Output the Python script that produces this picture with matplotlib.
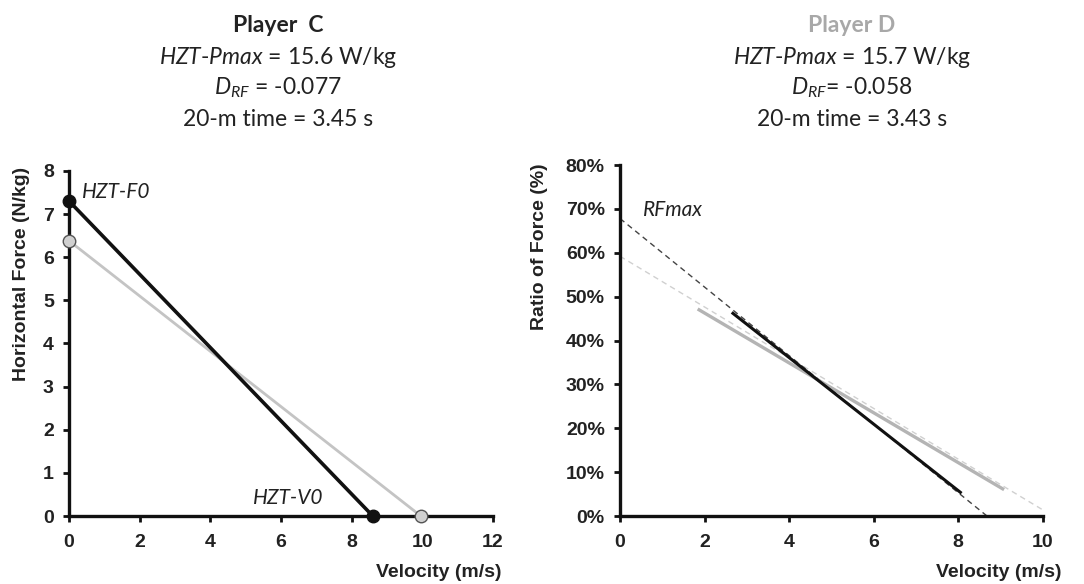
import matplotlib
matplotlib.use('Agg')
import matplotlib.pyplot as plt
from matplotlib.ticker import FuncFormatter

# left panel: horizontal force-velocity profiles (F0 at v=0, V0 at F=0)
c_f0 = 7.3
c_v0 = 8.6
d_f0 = 6.38
d_v0 = 9.96

# right panel: ratio of force vs velocity
c_rf_fit = [67.8, 0.0]        # intercept, zero crossing at c_rf_zero
c_rf_zero = 8.68
c_rf_seg_x = [2.67, 8.05]
c_rf_seg_y = [46.2, 5.4]
d_rf_fit = [59.2, 1.4]
d_rf_fit_x = [0.0, 10.0]
d_rf_seg_x = [1.87, 9.05]
d_rf_seg_y = [47.0, 6.2]

titles = [
    ["Player  C", r"$HZT$-$Pmax$ = 15.6 W/kg", r"$D_{RF}$ = -0.077", "20-m time = 3.45 s"],
    ["Player D", r"$HZT$-$Pmax$ = 15.7 W/kg", r"$D_{RF}$= -0.058", "20-m time = 3.43 s"],
]

plt.rcParams['font.family'] = 'Liberation Sans'
plt.rcParams['mathtext.fontset'] = 'custom'
plt.rcParams['mathtext.rm'] = 'Lato'
plt.rcParams['mathtext.it'] = 'Lato:slant=italic:weight=normal'

BLACK = '#111111'
GRAY = '#c4c4c4'
TXT = '#222222'

fig = plt.figure(figsize=(10.84, 5.84), dpi=100)
ax1 = fig.add_axes([0.0637, 0.1164, 0.391, 0.591])
ax2 = fig.add_axes([0.572, 0.1164, 0.390, 0.601])

# left panel
ax1.plot([0, d_v0], [d_f0, 0], color=GRAY, lw=2.0, zorder=2)
ax1.plot([0, c_v0], [c_f0, 0], color=BLACK, lw=2.6, zorder=3)
ax1.plot([0, d_v0], [d_f0, 0], 'o', ms=9, mfc='#d0d0d0', mec='#555555', mew=1,
         clip_on=False, zorder=5)
ax1.plot([0, c_v0], [c_f0, 0], 'o', ms=9, mfc=BLACK, mec=BLACK, clip_on=False, zorder=6)
ax1.set_xlim(0, 12)
ax1.set_ylim(0, 8)
ax1.set_xticks(range(0, 13, 2))
ax1.set_yticks(range(0, 9))
ax1.text(0.37, 7.5, 'HZT-F0', fontsize=15, style='italic',
         family='Lato', color=TXT, va='center')
ax1.text(5.2, 0.42, 'HZT-V0', fontsize=15, style='italic',
         family='Lato', color=TXT, va='center')
ax1.set_ylabel('Horizontal Force (N/kg)', fontsize=14, fontweight='bold', color=TXT)
ax1.yaxis.set_label_coords(-0.092, 0.70)
ax1.text(1.02, -0.165, 'Velocity (m/s)', transform=ax1.transAxes, ha='right', va='center',
         fontsize=14, fontweight='bold', color=TXT)

# right panel
ax2.plot(d_rf_fit_x, d_rf_fit, color='#d0d0d0', lw=1.0, ls=(0, (4, 3)), zorder=2)
ax2.plot([0, c_rf_zero], c_rf_fit, color='#444444', lw=1.0, ls=(0, (4, 3)), zorder=2)
ax2.plot(d_rf_seg_x, d_rf_seg_y, color='#b4b4b4', lw=2.4, zorder=3)
ax2.plot(c_rf_seg_x, c_rf_seg_y, color=BLACK, lw=2.2, zorder=4)
ax2.set_xlim(0, 10)
ax2.set_ylim(0, 80)
ax2.set_xticks(range(0, 11, 2))
ax2.set_yticks(range(0, 81, 10))
ax2.yaxis.set_major_formatter(FuncFormatter(lambda v, pos: '%d%%' % v))
ax2.text(0.55, 69.8, 'RFmax', fontsize=15, style='italic',
         family='Lato', color=TXT, va='center')
ax2.set_ylabel('Ratio of Force (%)', fontsize=14, fontweight='bold', color=TXT)
ax2.yaxis.set_label_coords(-0.170, 0.766)
ax2.text(1.045, -0.16, 'Velocity (m/s)', transform=ax2.transAxes, ha='right', va='center',
         fontsize=14, fontweight='bold', color=TXT)

for ax in (ax1, ax2):
    for s in ('top', 'right'):
        ax.spines[s].set_visible(False)
    for s in ('left', 'bottom'):
        ax.spines[s].set_linewidth(2.4)
        ax.spines[s].set_color(BLACK)
    ax.tick_params(direction='out', length=4, width=2, color=BLACK,
                   labelsize=14, labelcolor=TXT)
    ax.tick_params(axis='x', pad=9)
    ax.tick_params(axis='y', pad=7)
    plt.setp(ax.get_xticklabels() + ax.get_yticklabels(), fontweight='bold')

# header text blocks
ys = [1 - 25 / 584, 1 - 58 / 584, 1 - 88 / 584, 1 - 119 / 584]
for xc, lines, tcol in zip([0.2565, 0.786], titles, [TXT, '#a8a8a8']):
    for i, (y, t) in enumerate(zip(ys, lines)):
        fig.text(xc, y, t, ha='center', va='center', fontsize=16.5, family='Lato',
                 color=tcol if i == 0 else TXT, fontweight='bold' if i == 0 else 'normal')

fig.savefig('out.png', dpi=100, facecolor='white')
